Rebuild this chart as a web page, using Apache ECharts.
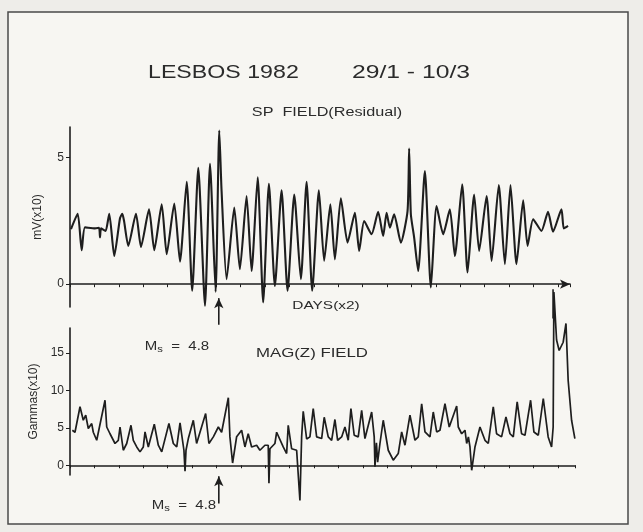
<!DOCTYPE html>
<html>
<head>
<meta charset="utf-8">
<script src="https://cdn.jsdelivr.net/npm/echarts@6/dist/echarts.min.js"></script>
<style>
  html, body { margin: 0; padding: 0; background: #eeede9; }
  #chart { width: 643px; height: 532px; }
</style>
</head>
<body>
<div id="chart"></div>
<script>
// SP field (residual), mV x10, days counted from 29/1
const spDays = [0.08, 0.63, 0.96, 1.23, 2.05, 2.38, 2.46, 2.54, 2.79, 2.93, 3.22, 3.63, 4.1, 4.29, 4.43, 4.78, 5.41, 5.82, 6.48, 6.91, 7.52, 7.93, 8.55, 9.02, 9.57, 10.02, 10.52, 11.07, 11.48, 11.94, 12.24, 12.43, 12.84, 13.47, 13.93, 14.48, 14.89, 15.39, 15.84, 16.31, 16.8, 17.35, 17.84, 18.39, 18.93, 19.4, 19.86, 20.41, 20.84, 21.35, 21.72, 22.21, 22.76, 23.36, 23.71, 24.12, 24.73, 25.27, 25.68, 25.96, 26.23, 26.58, 27.13, 27.68, 27.81, 27.95, 28.22, 28.55, 29.1, 29.59, 30.06, 30.6, 31.15, 31.56, 32.16, 32.6, 33.14, 33.55, 34.16, 34.57, 35.16, 35.66, 36.12, 36.61, 37.16, 37.52, 37.98, 38.66, 39.2, 39.61, 40.3, 40.49, 40.84]
const spValues = [2.17, 2.78, 1.34, 2.24, 2.2, 2.22, 1.85, 2.2, 2.13, 2.1, 2.78, 1.11, 2.6, 2.78, 2.5, 1.51, 2.78, 1.47, 2.95, 1.34, 3.15, 1.18, 3.18, 0.89, 4.04, -0.26, 4.59, -0.85, 4.75, -0.3, 6.06, 3.67, 0.2, 3.02, 0.59, 3.48, 0.52, 4.22, -0.72, 3.96, -0.07, 3.7, -0.26, 3.54, 0.2, 4.04, -0.26, 3.7, 0.92, 3.15, 0.98, 3.39, 1.64, 2.82, 1.31, 2.49, 1.97, 2.86, 1.9, 2.82, 2.23, 2.76, 1.64, 2.89, 5.35, 2.76, 1.84, 0.52, 4.46, -0.13, 3.08, 1.97, 2.95, 1.11, 3.94, 0.46, 3.54, 1.31, 3.48, 0.92, 3.91, 0.79, 3.91, 0.79, 3.31, 1.51, 2.56, 2.1, 2.86, 2.07, 2.95, 2.2, 2.3]

// MAG(Z) field, gammas x10
const magDays = [0.19, 0.41, 0.82, 1.09, 1.29, 1.5, 1.78, 1.91, 2.19, 2.87, 3.01, 3.28, 3.69, 3.96, 4.1, 4.37, 4.65, 5.0, 5.19, 5.47, 5.74, 6.01, 6.15, 6.42, 6.91, 7.24, 7.52, 8.11, 8.47, 8.75, 9.02, 9.34, 9.43, 9.51, 9.7, 10.11, 10.38, 11.12, 11.39, 11.75, 12.16, 12.43, 12.98, 13.11, 13.33, 13.66, 14.07, 14.34, 14.61, 14.89, 15.3, 15.57, 15.98, 16.25, 16.31, 16.39, 16.8, 16.94, 17.48, 17.76, 17.89, 18.17, 18.58, 18.85, 18.99, 19.12, 19.4, 19.67, 19.94, 20.22, 20.63, 20.84, 21.17, 21.45, 21.72, 21.94, 22.27, 22.54, 22.81, 23.03, 23.3, 23.63, 23.91, 24.18, 24.73, 24.94, 25.0, 25.12, 25.22, 25.41, 25.68, 26.09, 26.5, 26.91, 27.19, 27.46, 27.87, 28.28, 28.55, 28.83, 29.1, 29.51, 29.78, 30.06, 30.33, 30.74, 31.09, 31.7, 31.83, 32.11, 32.38, 32.52, 32.66, 32.79, 32.93, 33.2, 33.61, 34.02, 34.29, 34.7, 34.97, 35.38, 35.74, 36.07, 36.34, 36.66, 37.02, 37.3, 37.76, 38.03, 38.39, 38.8, 39.2, 39.48, 39.61, 39.67, 39.89, 40.1, 40.43, 40.66, 40.84, 41.12, 41.39]
const magValues = [4.67, 4.4, 7.8, 6, 6.67, 4.9, 5.56, 4.4, 3.33, 8.67, 5.1, 4.2, 2.9, 3.33, 5.1, 2.0, 2.9, 5.33, 3.33, 2.44, 1.78, 2.44, 4.44, 2.44, 5.47, 2.67, 1.78, 5.56, 2.9, 2.44, 5.64, 2.0, -0.8, 2.0, 3.56, 6, 2.9, 6.9, 2.9, 3.78, 5.1, 4.4, 9.0, 3.78, 0.3, 3.8, 4.67, 2.44, 4.2, 2.44, 2.67, 2.0, 2.67, 2.67, -2.4, 2.2, 2.9, 4.4, 2.44, 1.56, 5.33, 2.2, 2.0, -4.7, 3.8, 7.2, 3.5, 3.78, 7.56, 3.78, 3.56, 6.4, 3.78, 3.33, 6.1, 3.33, 3.78, 5.1, 3.33, 7.56, 4.0, 3.78, 7.33, 3.56, 7.1, 3.78, -0.2, 3.0, 0.4, 2.9, 6.0, 2.0, 0.67, 1.56, 4.44, 2.67, 6.67, 3.33, 3.78, 8.2, 4.44, 3.78, 7.1, 4.44, 4.67, 8.2, 5.1, 7.9, 5.1, 4.2, 4.67, 2.9, 3.78, 2.44, -0.67, 2.44, 5.1, 3.33, 2.9, 7.8, 4.2, 3.78, 6.44, 4.2, 3.78, 8.44, 4.2, 4.0, 8.67, 4.44, 4.0, 8.9, 3.78, 2.44, 5.1, 23.1, 16.7, 15.3, 16.4, 18.9, 11.3, 6.0, 3.56]

const spTicks = [0, 5]
const magTicks = [0, 5, 10, 15]
const quakeDay = 12.2 // Ms = 4.8
const endMarkDay = 39.61
// arrow ends below each panel (tail value, head value)
const spArrow = [-1.6, -0.55]
const magArrow = [-5.1, -1.45]
const spEndMark = [-0.2, -1.35]

const ink = '#1e1e1e'
const textInk = '#2b2b2b'
const font = 'Liberation Sans'

function pairs(xs, ys) {
  return xs.map((x, i) => [x, ys[i]])
}

function xAxisOf(gridIndex, max, arrow) {
  return {
    type: 'value',
    gridIndex,
    min: 0,
    max,
    interval: 2,
    axisLine: {
      onZero: true,
      symbol: arrow ? ['none', 'arrow'] : 'none',
      symbolSize: [7, 10],
      lineStyle: { color: ink, width: 1.6 },
    },
    axisTick: { show: true, length: 3, lineStyle: { color: ink, width: 1 } },
    axisLabel: { show: false },
    splitLine: { show: false },
  }
}

function yAxisOf(gridIndex, min, max, ticks, name, nameGap) {
  return {
    type: 'value',
    gridIndex,
    min,
    max,
    name,
    nameLocation: 'middle',
    nameRotate: 90,
    nameGap,
    nameTextStyle: { color: textInk, fontFamily: font, fontSize: 12 },
    axisLine: { show: true, onZero: false, lineStyle: { color: ink, width: 1.6 } },
    axisTick: { show: true, customValues: ticks, length: 4, lineStyle: { color: ink } },
    axisLabel: { customValues: ticks, color: textInk, fontFamily: font, fontSize: 12, margin: 6 },
    splitLine: { show: false },
  }
}

// short vertical marks drawn as tiny line series (markLine drops coords outside the axis range)
function arrowSeries(axisIndex, range) {
  return {
    type: 'line',
    xAxisIndex: axisIndex,
    yAxisIndex: axisIndex,
    clip: false,
    silent: true,
    showSymbol: true,
    lineStyle: { color: ink, width: 1.6 },
    data: [
      { value: [quakeDay, range[0]], symbol: 'none' },
      { value: [quakeDay, range[1]], symbol: 'arrow', symbolSize: [7, 10], itemStyle: { color: ink } },
    ],
  }
}

function text(x, y, str, size, align, scaleX) {
  return {
    type: 'text',
    x,
    y,
    scaleX: scaleX || 1,
    style: {
      text: str,
      fill: textInk,
      font: size + 'px "' + font + '"',
      align: align || 'center',
      verticalAlign: 'middle',
    },
  }
}

function msLabel(x, y) {
  return {
    type: 'text',
    x,
    y,
    scaleX: 1.25,
    style: {
      text: '{m|M}{s|s}{m|  =  4.8}',
      align: 'center',
      verticalAlign: 'middle',
      rich: {
        m: { fill: textInk, fontFamily: font, fontSize: 12 },
        s: { fill: textInk, fontFamily: font, fontSize: 9, verticalAlign: 'bottom', padding: [6, 0, 0, 0] },
      },
    },
  }
}

const chart = echarts.init(document.getElementById('chart'))

chart.setOption({
  backgroundColor: '#eeede9',
  animation: false,
  grid: [
    { left: 70, top: 127, width: 500, height: 180 },
    { left: 70, top: 328, width: 505, height: 147 },
  ],
  xAxis: [xAxisOf(0, 41, true), xAxisOf(1, 41.4, false)],
  yAxis: [
    yAxisOf(0, -0.9, 6.2, spTicks, 'mV(x10)', 26),
    yAxisOf(1, -1.3, 18.3, magTicks, 'Gammas(x10)', 24),
  ],
  graphic: [
    {
      type: 'rect',
      z: -10,
      shape: { x: 8, y: 12, width: 620, height: 512 },
      style: { fill: '#f7f6f2', stroke: '#4a4a4a', lineWidth: 1.5 },
    },
    text(148, 73, 'LESBOS 1982', 19, 'left', 1.22),
    text(470, 73, '29/1 - 10/3', 19, 'right', 1.3),
    text(327, 113, 'SP  FIELD(Residual)', 12, 'center', 1.35),
    text(326, 306, 'DAYS(x2)', 11, 'center', 1.4),
    text(312, 354, 'MAG(Z) FIELD', 12, 'center', 1.4),
    msLabel(177, 347),
    msLabel(184, 506),
  ],
  series: [
    {
      name: 'SP field',
      type: 'line',
      xAxisIndex: 0,
      yAxisIndex: 0,
      data: pairs(spDays, spValues),
      showSymbol: false,
      smooth: 0.2,
      clip: false,
      lineStyle: { color: ink, width: 2.1 },
    },
    {
      name: 'end mark',
      type: 'line',
      xAxisIndex: 0,
      yAxisIndex: 0,
      data: [[endMarkDay, spEndMark[0]], [endMarkDay, spEndMark[1]]],
      showSymbol: false,
      clip: false,
      lineStyle: { color: ink, width: 1.6 },
    },
    arrowSeries(0, spArrow),
    {
      name: 'MAG(Z) field',
      type: 'line',
      xAxisIndex: 1,
      yAxisIndex: 1,
      data: pairs(magDays, magValues),
      showSymbol: false,
      clip: false,
      lineStyle: { color: ink, width: 1.7 },
    },
    arrowSeries(1, magArrow),
  ],
})
</script>
</body>
</html>
